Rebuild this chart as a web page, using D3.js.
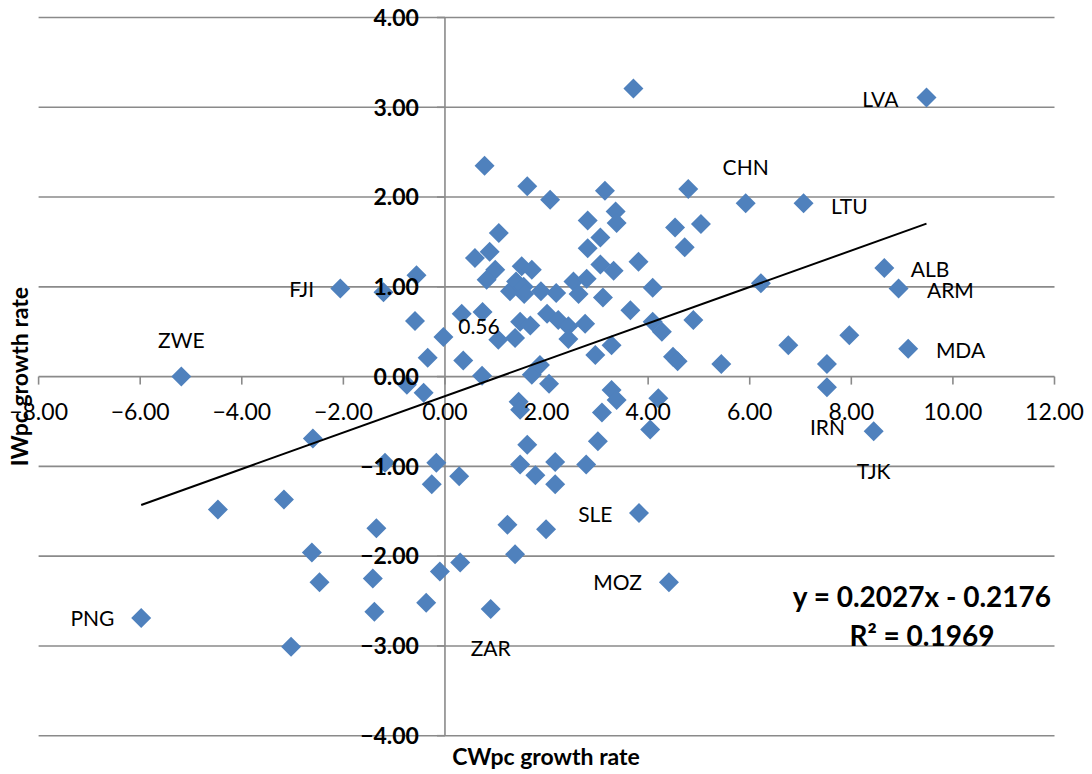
<!DOCTYPE html>
<html>
<head>
<meta charset="utf-8">
<script src="https://cdn.jsdelivr.net/npm/d3@7"></script>
<style>
  html, body { margin: 0; padding: 0; background: #fff; }
  svg { display: block; font-family: Lato, "Open Sans", sans-serif; }
</style>
</head>
<body>
<script>
// CWpc growth rate (x) and IWpc growth rate (y)
var cwpc = [
  -5.19, -2.06, -1.21, -0.56, -0.59, -0.03, -0.34, -0.75, -0.42, -2.60,
  -0.17, -1.18, -0.26, 0.28, -3.17, -4.47, -1.35, -2.62, -2.47, -1.42,
  -1.39, -0.37, -0.10, 0.30, -3.03, -5.98, 0.90, 1.23, 1.38, 1.99,
  3.82, 4.41, 1.48, 1.78, 2.17, 2.17, 2.78, 1.62, 1.45, 1.48,
  3.01, 3.09, 3.28, 3.38, 4.04, 4.20, 2.05, 1.71, 1.87, 0.73,
  0.36, 0.33, 0.74, 1.05, 1.38, 1.48, 1.68, 2.01, 2.23, 2.43,
  2.43, 2.76, 2.96, 3.28, 3.65, 4.09, 4.27, 4.49, 4.58, 4.89,
  5.44, 6.76, 7.52, 7.96, 7.52, 8.44, 9.12, 8.93, 8.65, 6.22,
  9.48, 3.71, 5.92, 7.06, 4.79, 4.53, 5.04, 4.72, 0.78, 1.62,
  2.07, 3.15, 3.36, 3.38, 2.81, 3.06, 2.81, 1.06, 0.88, 0.59,
  0.99, 0.82, 1.51, 1.71, 1.28, 1.40, 1.55, 1.56, 1.89, 2.19,
  2.53, 2.79, 2.63, 3.06, 3.32, 3.81, 4.09, 3.11
];
var iwpc = [
  0.00, 0.98, 0.94, 1.13, 0.62, 0.44, 0.21, -0.09, -0.18, -0.69,
  -0.96, -0.96, -1.20, -1.11, -1.37, -1.48, -1.69, -1.96, -2.29, -2.25,
  -2.62, -2.52, -2.17, -2.07, -3.01, -2.69, -2.59, -1.65, -1.98, -1.70,
  -1.52, -2.29, -0.98, -1.10, -0.95, -1.20, -0.98, -0.76, -0.28, -0.37,
  -0.72, -0.40, -0.15, -0.26, -0.59, -0.24, -0.08, 0.02, 0.13, 0.01,
  0.18, 0.70, 0.72, 0.41, 0.43, 0.61, 0.57, 0.70, 0.63, 0.56,
  0.42, 0.59, 0.24, 0.35, 0.74, 0.61, 0.50, 0.22, 0.17, 0.63,
  0.14, 0.35, 0.14, 0.46, -0.12, -0.61, 0.31, 0.98, 1.21, 1.04,
  3.11, 3.21, 1.93, 1.93, 2.09, 1.66, 1.70, 1.44, 2.35, 2.12,
  1.97, 2.07, 1.84, 1.71, 1.74, 1.55, 1.43, 1.60, 1.39, 1.32,
  1.19, 1.08, 1.23, 1.19, 0.95, 1.06, 1.00, 0.92, 0.95, 0.93,
  1.06, 1.09, 0.92, 1.25, 1.18, 1.28, 0.99, 0.88
];

// country labels and where they sit (data units, text centre / baseline)
var labelText = ["LVA", "CHN", "LTU", "ALB", "ARM", "MDA", "IRN", "TJK", "SLE", "MOZ", "ZAR", "PNG", "ZWE", "FJI", "0.56"];
var labelX    = [8.57, 5.92, 7.96, 9.55, 9.95, 10.15, 7.53, 8.44, 2.96, 3.40, 0.90, -6.94, -5.19, -2.82, 0.67];
var labelY    = [3.00, 2.245, 1.81, 1.11, 0.88, 0.21, -0.65, -1.14, -1.62, -2.38, -3.11, -2.78, 0.315, 0.89, 0.47];

var xTicks = [-8, -6, -4, -2, 0, 2, 4, 6, 8, 10, 12];
var yTicks = [-4, -3, -2, -1, 0, 1, 2, 3, 4];

// linear trend shown on the chart
var trendSlope = 0.2027;
var trendIntercept = -0.2176;
var trendEq = "y = 0.2027x - 0.2176";
var trendR2 = "R\u00b2 = 0.1969";

var W = 1092, H = 774;
var blue = "#4f81bd", gridColor = "#8a8a8a";

var x = d3.scaleLinear().domain([-8, 12]).range([38.6, 1054.5]);
var y = d3.scaleLinear().domain([-4, 4]).range([735.7, 17.5]);

var svg = d3.select("body").append("svg")
            .attr("width", W).attr("height", H);

// horizontal gridlines
svg.append("g").selectAll("line").data(yTicks).enter().append("line")
   .attr("x1", x(-8)).attr("x2", x(12))
   .attr("y1", function(d){ return y(d); }).attr("y2", function(d){ return y(d); })
   .style("stroke", gridColor).style("stroke-width", 1.6);

// vertical axis at x = 0
svg.append("line")
   .attr("x1", x(0)).attr("x2", x(0)).attr("y1", y(4)).attr("y2", y(-4))
   .style("stroke", gridColor).style("stroke-width", 1.6);

// tick marks
svg.append("g").selectAll("line").data(xTicks).enter().append("line")
   .attr("x1", function(d){ return x(d); }).attr("x2", function(d){ return x(d); })
   .attr("y1", y(0)).attr("y2", y(0) + 8)
   .style("stroke", gridColor).style("stroke-width", 1.6);
svg.append("g").selectAll("line").data(yTicks).enter().append("line")
   .attr("x1", x(0) - 8).attr("x2", x(0))
   .attr("y1", function(d){ return y(d); }).attr("y2", function(d){ return y(d); })
   .style("stroke", gridColor).style("stroke-width", 1.6);

// diamonds
var r = 10;
var pts = d3.range(cwpc.length);
svg.append("g").selectAll("path").data(pts).enter().append("path")
   .attr("transform", function(i){ return "translate(" + x(cwpc[i]) + "," + y(iwpc[i]) + ")"; })
   .attr("d", "M0," + (-r) + "L" + r + ",0L0," + r + "L" + (-r) + ",0Z")
   .style("fill", blue);

// trend line over the data range
var ext = d3.extent(cwpc);
svg.append("line")
   .attr("x1", x(ext[0])).attr("y1", y(trendSlope * ext[0] + trendIntercept))
   .attr("x2", x(ext[1])).attr("y2", y(trendSlope * ext[1] + trendIntercept))
   .style("stroke", "#000").style("stroke-width", 2);

// tick labels
svg.append("g").selectAll("text").data(xTicks).enter().append("text")
   .attr("x", function(d){ return x(d); }).attr("y", y(0) + 43)
   .attr("text-anchor", "middle")
   .style("font-size", "23px").style("fill", "#000")
   .text(function(d){ return d3.format(".2f")(d); });

svg.append("g").selectAll("text").data(yTicks).enter().append("text")
   .attr("x", x(0) - 26).attr("y", function(d){ return y(d); })
   .attr("dy", "0.36em").attr("text-anchor", "end")
   .style("font-size", "23px").style("font-weight", "bold").style("fill", "#000")
   .text(function(d){ return d3.format(".2f")(d); });

// axis titles
svg.append("text")
   .attr("x", 546).attr("y", 765)
   .attr("text-anchor", "middle")
   .style("font-size", "23px").style("font-weight", "bold")
   .text("CWpc growth rate");

svg.append("text")
   .attr("transform", "translate(28," + y(0) + ") rotate(-90)")
   .attr("text-anchor", "middle")
   .style("font-size", "23px").style("font-weight", "bold")
   .text("IWpc growth rate");

// country labels
svg.append("g").selectAll("text").data(labelText).enter().append("text")
   .attr("x", function(d, i){ return x(labelX[i]); })
   .attr("y", function(d, i){ return y(labelY[i]); })
   .attr("text-anchor", "middle")
   .style("font-size", "21px").style("fill", "#000")
   .text(function(d){ return d; });

// equation
var eqX = x(9.39);
svg.append("text")
   .attr("x", eqX).attr("y", y(-2.57))
   .attr("text-anchor", "middle")
   .style("font-size", "28px").style("font-weight", "bold")
   .text(trendEq);
svg.append("text")
   .attr("x", eqX).attr("y", y(-3.0))
   .attr("text-anchor", "middle")
   .style("font-size", "28px").style("font-weight", "bold")
   .text(trendR2);
</script>
</body>
</html>
